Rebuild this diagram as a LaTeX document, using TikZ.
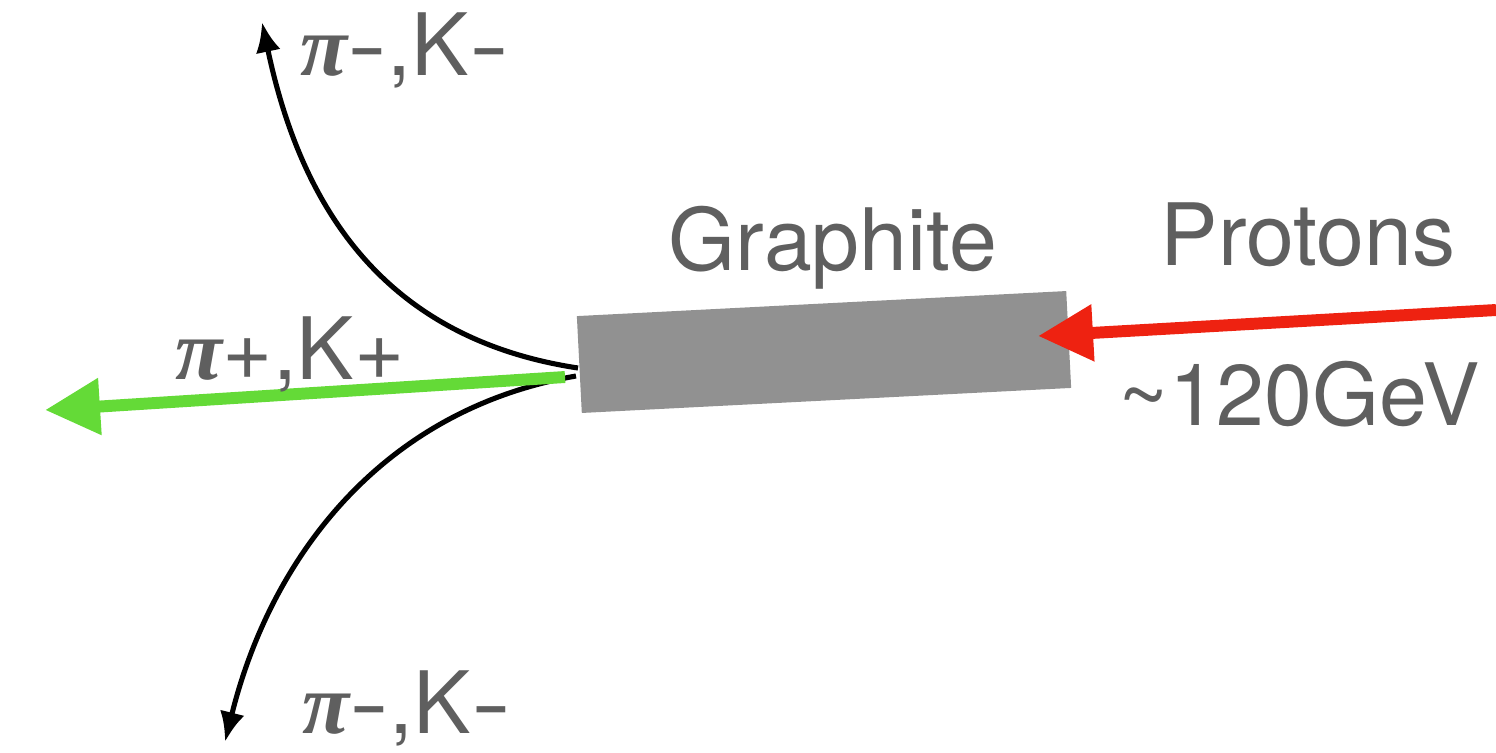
\documentclass[tikz,border=0pt]{standalone}
\usepackage{fontspec}
\setmainfont{TeX Gyre Heros}
\newfontfamily\pisym{Liberation Serif}
\usetikzlibrary{arrows.meta}
\definecolor{targetgray}{RGB}{145,145,145}
\definecolor{labelgray}{RGB}{95,95,95}
\definecolor{protonred}{RGB}{238,34,17}
\definecolor{piongreen}{RGB}{100,218,55}
\newcommand{\boldpi}{{\pisym\bfseries\itshape π}}
\newcommand{\widehyph}{\scalebox{1.4}[1]{-}}
\tikzset{
  lbl/.style={anchor=base west, inner sep=0pt, text=labelgray, font=\fontsize{24.5}{28}\selectfont},
  track/.style={line width=1.45pt, -{Latex[length=0.3cm,width=0.25cm]}},
  beam/.style={line width=3.4pt, -{Triangle[length=0.55cm,width=0.54cm]}}
}
\begin{document}
\begin{tikzpicture}
    \useasboundingbox (0,0) rectangle (14.96,7.52);
    % target
    \node (target) [fill=targetgray, minimum width=4.9cm, minimum height=0.97cm, inner sep=0pt, rotate=2.93] at (8.24,4.00) {};
    % beam ends
    \coordinate (beamin) at (14.96,4.42);
    \coordinate (beamhit) at (10.38,4.16);
    \coordinate (outup) at (5.78,3.84);
    \coordinate (outdown) at (5.76,3.76);
    \coordinate (outmid) at (5.65,3.75);
    \coordinate (tipup) at (2.62,7.30);
    \coordinate (tipdown) at (2.25,0.10);
    \coordinate (tipmid) at (0.45,3.42);
    % tracks
    \draw [track] (outup) .. controls (3.80,4.14) and (3.00,5.50) .. (tipup);
    \draw [track] (outdown) .. controls (3.80,3.42) and (2.70,1.92) .. (tipdown);
    \draw [beam, protonred] (beamin) -- (beamhit);
    \draw [beam, piongreen] (outmid) -- (tipmid);
    % labels
    \node (negup) [lbl] at (3.00,6.77) {\boldpi\widehyph,K\widehyph};
    \node (pos) [lbl] at (1.75,3.73) {\boldpi+,K+};
    \node (negdown) [lbl] at (3.02,0.19) {\boldpi\widehyph,K\widehyph};
    \node (graphite) [lbl] at (6.68,4.82) {Graphite};
    \node (protons) [lbl] at (11.60,4.87) {Protons};
    \node (energy) [lbl] at (11.18,3.27) {\textasciitilde120GeV};
\end{tikzpicture}
\end{document}
